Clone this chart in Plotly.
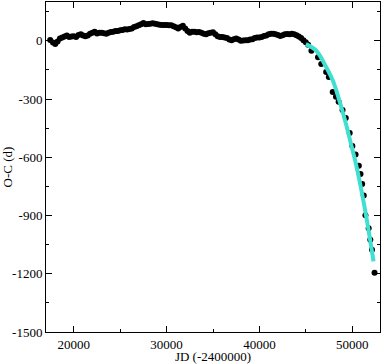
import plotly.graph_objects as go

# Observed O-C values (black dots)
jd_obs = [17450, 17750, 18000, 18250, 18500, 18750, 19000, 19250, 19500, 19750,
          20000, 20250, 20500, 20750, 21000, 21250, 21500, 21750, 22000, 22250,
          22500, 22750, 23000, 23250, 23500, 23750, 24000, 24250, 24500, 24750,
          25000, 25250, 25500, 25750, 26000, 26250, 26500, 26750, 27000, 27250,
          27500, 27750, 28000, 28250, 28500, 28750, 29000, 29250, 29500, 29750,
          30000, 30250, 30500, 30750, 31000, 31250, 31500, 31750, 32000, 32250,
          32500, 32750, 33000, 33250, 33500, 33750, 34000, 34250, 34500, 34750,
          35000, 35250, 35500, 35750, 36000, 36250, 36500, 36750, 37000, 37250,
          37500, 37750, 38000, 38250, 38500, 38750, 39000, 39250, 39500, 39750,
          40000, 40250, 40500, 40750, 41000, 41250, 41500, 41750, 42000, 42250,
          42500, 42750, 43000, 43250, 43500, 43750, 44000, 44250, 44500, 44750,
          45000, 45250, 45608, 46318, 46667, 47196, 47481, 47904, 48253, 48539,
          48962, 49311, 49734, 50020, 50369, 50719, 50898, 51078, 51250, 51427,
          51778, 51956, 52136, 52411]
oc_obs = [4, -8, -17, -3, 12, 17, 22, 27, 20, 22,
          24, 20, 30, 34, 27, 24, 27, 37, 42, 47,
          38, 41, 41, 39, 37, 41, 46, 47, 51, 51,
          54, 56, 59, 58, 61, 64, 71, 75, 80, 85,
          92, 85, 87, 88, 90, 88, 85, 83, 81, 81,
          81, 80, 80, 75, 70, 64, 71, 78, 64, 51,
          42, 47, 47, 44, 46, 41, 37, 34, 39, 41,
          44, 34, 24, 20, 20, 17, 15, 7, 3, 8,
          12, 7, 0, 2, 3, 3, 7, 8, 14, 17,
          17, 20, 25, 27, 34, 37, 37, 34, 30, 25,
          29, 34, 35, 34, 37, 34, 29, 22, 14, 3,
          -7, -20, -51, -85, -119, -161, -186, -263, -288, -314,
          -356, -398, -475, -542, -585, -644, -686, -737, -797, -898,
          -966, -1025, -1076, -1195]

# Fitted curve (cyan)
jd_fit = [45006, 46137, 47017, 47904, 48603, 49311, 49840, 50369, 50898,
          51427, 51850, 52306]
oc_fit = [-17, -51, -119, -203, -305, -424, -525, -627, -746,
          -881, -1000, -1136]

x_ticks = [20000, 30000, 40000, 50000]
y_ticks = [0, -300, -600, -900, -1200, -1500]

fig = go.Figure()
fig.add_trace(go.Scatter(x=jd_obs, y=oc_obs, mode="markers",
                         marker=dict(color="black", size=6, symbol="circle"),
                         showlegend=False))
fig.add_trace(go.Scatter(x=jd_fit, y=oc_fit, mode="lines",
                         line=dict(color="#40E0D0", width=4, shape="spline"),
                         showlegend=False))

font_family = "Liberation Serif, Times New Roman, serif"
axis_common = dict(showgrid=False, zeroline=False, showline=True, linecolor="black",
                   linewidth=1, mirror="ticks", ticks="inside", ticklen=6,
                   tickcolor="black", tickwidth=1,
                   tickfont=dict(family=font_family, size=13, color="black"))

fig.update_xaxes(range=[17000, 53000], tickvals=x_ticks,
                 ticktext=[str(v) for v in x_ticks],
                 minor=dict(dtick=5000, tick0=0, ticks="inside", ticklen=3,
                            tickcolor="black"),
                 title=dict(text="JD (-2400000)", standoff=2,
                            font=dict(family=font_family, size=13, color="black")),
                 **axis_common)
fig.update_yaxes(range=[-1500, 200], tickvals=y_ticks,
                 ticktext=[str(v) for v in y_ticks],
                 minor=dict(dtick=150, tick0=0, ticks="inside", ticklen=3,
                            tickcolor="black"),
                 title=dict(text="O-C (d)", standoff=2,
                            font=dict(family=font_family, size=13, color="black")),
                 **axis_common)

fig.update_layout(width=382, height=364, margin=dict(l=41, r=1, t=1, b=29),
                  plot_bgcolor="white", paper_bgcolor="white")

fig.write_html("out.html", config={"displayModeBar": False},
               post_script="document.body.style.margin='0';document.body.style.overflow='hidden';")
